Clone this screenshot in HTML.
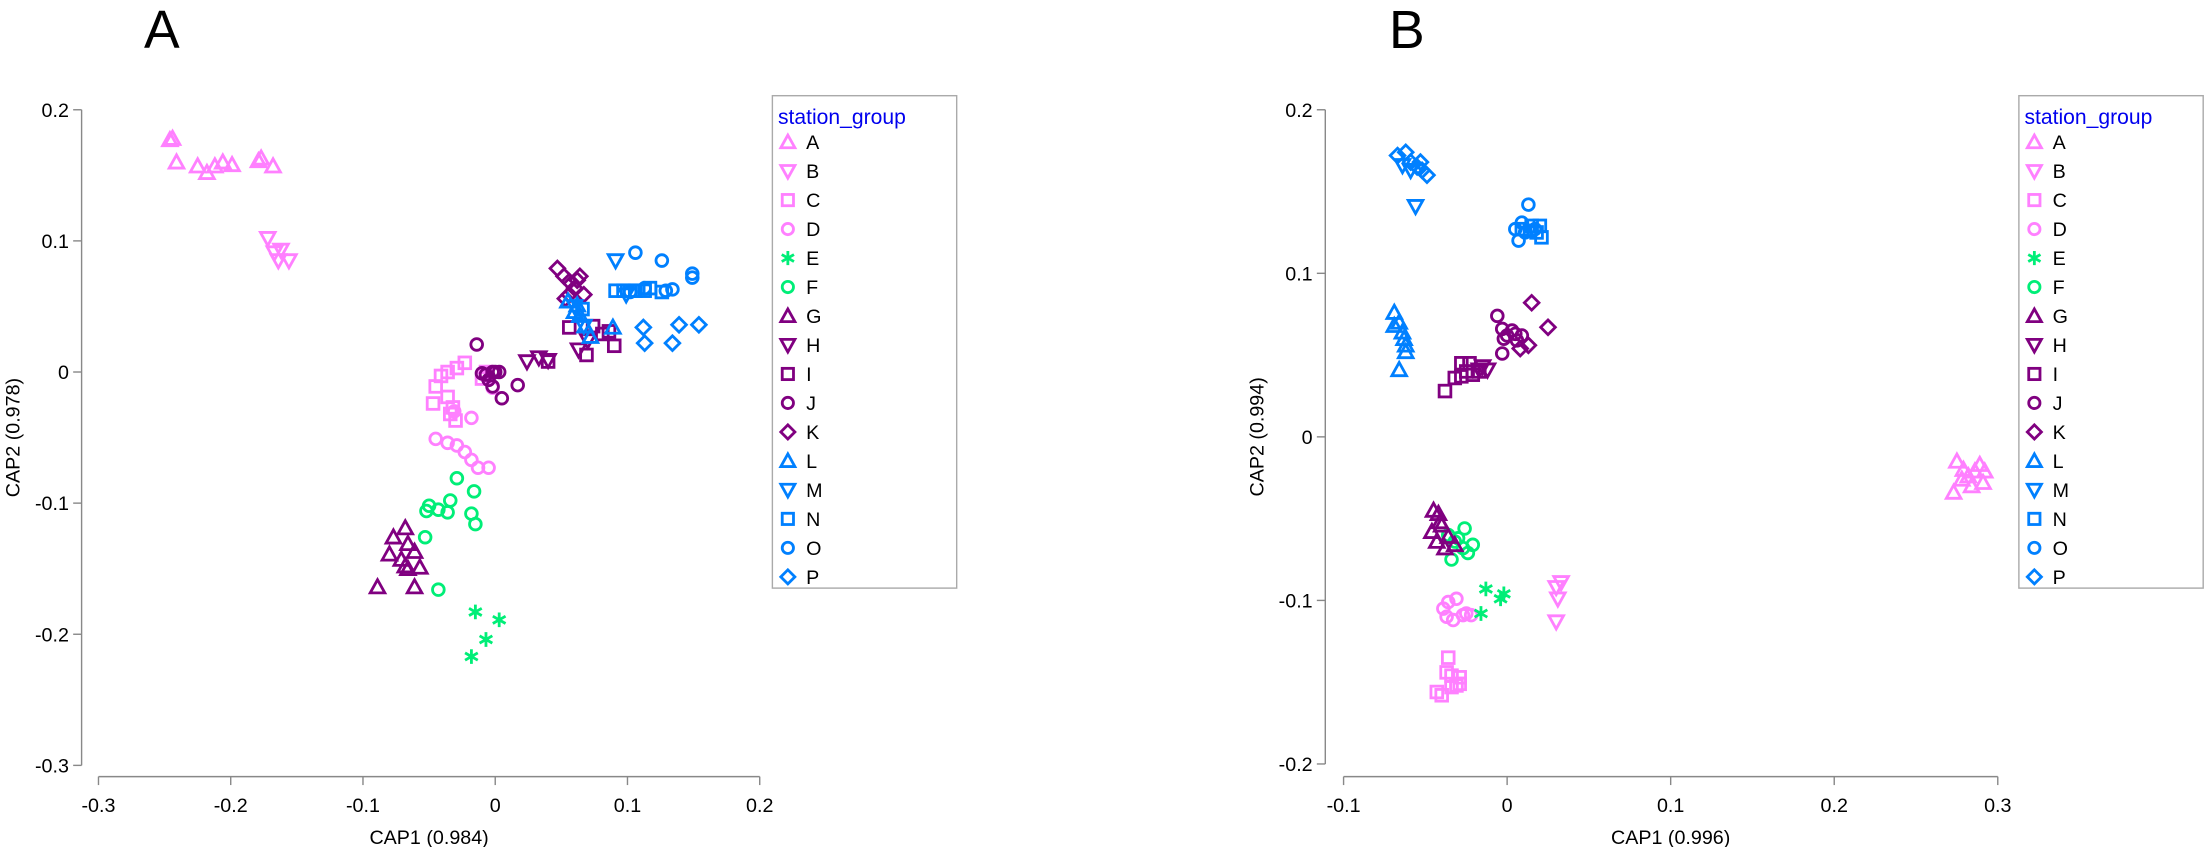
<!DOCTYPE html>
<html><head><meta charset="utf-8"><style>
html,body{margin:0;padding:0;background:#fff}
svg{display:block;font-family:"Liberation Sans",Arial,sans-serif}
</style></head><body>
<svg id="chart" width="2206" height="847" viewBox="0 0 1568 602" xmlns="http://www.w3.org/2000/svg">
<text x="115" y="34" font-size="38" text-anchor="middle">A</text>
<text x="1000" y="34" font-size="38" text-anchor="middle">B</text>
<g id="pa"></g>
<g id="pb"></g>
</svg>
<script>
const groups = ["A","B","C","D","E","F","G","H","I","J","K","L","M","N","O","P"];
const groupColors = ["#ff80ff","#ff80ff","#ff80ff","#ff80ff","#00ee77","#00ee77","#800080","#800080","#800080","#800080","#800080","#0080ff","#0080ff","#0080ff","#0080ff","#0080ff"];
const groupShapes = ["up","down","square","circle","star","circle","up","down","square","circle","diamond","up","down","square","circle","diamond"];
const xTicksA = [-0.3,-0.2,-0.1,0,0.1,0.2];
const yTicksA = [0.2,0.1,0,-0.1,-0.2,-0.3];
const xTicksB = [-0.1,0,0.1,0.2,0.3];
const yTicksB = [0.2,0.1,0,-0.1,-0.2];
const dataA = {
A:[[-0.246,0.177],[-0.244,0.178],[-0.241,0.160],[-0.225,0.157],[-0.218,0.152],[-0.212,0.157],[-0.206,0.160],[-0.199,0.158],[-0.179,0.161],[-0.177,0.163],[-0.168,0.157]],
B:[[-0.172,0.102],[-0.167,0.091],[-0.164,0.085],[-0.156,0.085],[-0.162,0.093]],
C:[[-0.047,-0.024],[-0.045,-0.011],[-0.041,-0.003],[-0.036,0.0],[-0.029,0.003],[-0.023,0.007],[-0.036,-0.019],[-0.032,-0.027],[-0.030,-0.037],[-0.034,-0.032],[-0.007,0.0],[-0.010,-0.005]],
D:[[-0.045,-0.051],[-0.036,-0.054],[-0.029,-0.056],[-0.023,-0.061],[-0.018,-0.067],[-0.013,-0.073],[-0.005,-0.073],[-0.031,-0.030],[-0.018,-0.035],[-0.007,-0.003],[-0.002,-0.012]],
E:[[-0.015,-0.183],[0.003,-0.189],[-0.007,-0.204],[-0.018,-0.217]],
F:[[-0.050,-0.102],[-0.043,-0.105],[-0.036,-0.107],[-0.034,-0.098],[-0.029,-0.081],[-0.016,-0.091],[-0.018,-0.108],[-0.015,-0.116],[-0.053,-0.126],[-0.043,-0.166],[-0.052,-0.106]],
G:[[-0.089,-0.164],[-0.077,-0.126],[-0.068,-0.119],[-0.066,-0.131],[-0.061,-0.137],[-0.071,-0.143],[-0.066,-0.150],[-0.057,-0.149],[-0.068,-0.148],[-0.080,-0.139],[-0.061,-0.164]],
H:[[0.024,0.008],[0.033,0.011],[0.063,0.017],[0.070,0.024],[0.040,0.009]],
I:[[0.040,0.008],[0.056,0.034],[0.069,0.013],[0.074,0.035],[0.081,0.029],[0.086,0.031],[0.090,0.020]],
J:[[-0.014,0.021],[-0.007,-0.002],[-0.005,-0.006],[-0.002,-0.011],[-0.002,0.0],[0.0,0.0],[0.003,0.0],[0.005,-0.020],[0.017,-0.010],[-0.010,-0.001]],
K:[[0.047,0.079],[0.052,0.073],[0.056,0.069],[0.060,0.064],[0.062,0.070],[0.064,0.073],[0.056,0.059],[0.067,0.059],[0.053,0.056]],
L:[[0.055,0.054],[0.060,0.046],[0.064,0.043],[0.068,0.035],[0.072,0.027],[0.089,0.034],[0.062,0.051]],
M:[[0.091,0.085],[0.099,0.059],[0.060,0.050],[0.067,0.035]],
N:[[0.091,0.062],[0.097,0.062],[0.102,0.062],[0.106,0.062],[0.113,0.062],[0.117,0.064],[0.126,0.061],[0.066,0.048]],
O:[[0.106,0.091],[0.126,0.085],[0.113,0.064],[0.129,0.062],[0.149,0.075],[0.149,0.072],[0.134,0.063],[0.102,0.061]],
P:[[0.112,0.034],[0.113,0.022],[0.139,0.036],[0.134,0.022],[0.154,0.036]]
};
const dataB = {
A:[[0.275,-0.015],[0.279,-0.020],[0.282,-0.024],[0.286,-0.021],[0.289,-0.017],[0.292,-0.021],[0.278,-0.026],[0.291,-0.028],[0.273,-0.034],[0.284,-0.030]],
B:[[0.030,-0.092],[0.031,-0.099],[0.030,-0.113],[0.033,-0.089]],
C:[[-0.043,-0.156],[-0.040,-0.158],[-0.037,-0.144],[-0.034,-0.146],[-0.031,-0.152],[-0.029,-0.147],[-0.034,-0.153],[-0.029,-0.151],[-0.036,-0.135]],
D:[[-0.039,-0.105],[-0.036,-0.101],[-0.031,-0.099],[-0.027,-0.109],[-0.025,-0.108],[-0.033,-0.112],[-0.022,-0.109],[-0.037,-0.110]],
E:[[-0.013,-0.093],[-0.004,-0.099],[-0.016,-0.108],[-0.002,-0.096]],
F:[[-0.036,-0.060],[-0.032,-0.064],[-0.027,-0.068],[-0.024,-0.071],[-0.030,-0.062],[-0.026,-0.056],[-0.021,-0.066],[-0.034,-0.075]],
G:[[-0.045,-0.045],[-0.042,-0.047],[-0.046,-0.058],[-0.040,-0.054],[-0.036,-0.061],[-0.043,-0.064],[-0.032,-0.066],[-0.038,-0.068],[-0.041,-0.052]],
H:[[-0.017,0.041],[-0.015,0.043],[-0.012,0.041]],
I:[[-0.038,0.028],[-0.032,0.036],[-0.028,0.037],[-0.025,0.040],[-0.021,0.038],[-0.017,0.040],[-0.028,0.045],[-0.023,0.045]],
J:[[-0.006,0.074],[-0.003,0.066],[0.0,0.062],[0.003,0.065],[0.005,0.063],[-0.002,0.060],[-0.003,0.051],[0.009,0.062],[0.006,0.059]],
K:[[0.015,0.082],[0.025,0.067],[0.008,0.054],[0.013,0.056]],
L:[[-0.069,0.076],[-0.066,0.070],[-0.064,0.064],[-0.063,0.060],[-0.062,0.056],[-0.066,0.041],[-0.062,0.052],[-0.069,0.068]],
M:[[-0.056,0.141],[-0.064,0.166],[-0.059,0.163]],
N:[[0.009,0.127],[0.014,0.126],[0.018,0.125],[0.020,0.129],[0.021,0.122],[0.015,0.129]],
O:[[0.005,0.127],[0.009,0.131],[0.013,0.142],[0.011,0.125],[0.017,0.127],[0.007,0.120]],
P:[[-0.067,0.172],[-0.062,0.174],[-0.059,0.168],[-0.055,0.165],[-0.052,0.163],[-0.049,0.160],[-0.053,0.168]]
};
const NS="http://www.w3.org/2000/svg";
function mk(tag,attrs,parent){const e=document.createElementNS(NS,tag);for(const k in attrs)e.setAttribute(k,attrs[k]);parent.appendChild(e);return e;}
function marker(shape,cx,cy,s,color,parent){
  let e; const st={fill:"none",stroke:color,"stroke-width":2};
  if(shape==="up"){e=mk("polygon",Object.assign({points:`${cx},${cy-s} ${cx-s},${cy+s*0.8} ${cx+s},${cy+s*0.8}`},st),parent);}
  else if(shape==="down"){e=mk("polygon",Object.assign({points:`${cx},${cy+s} ${cx-s},${cy-s*0.8} ${cx+s},${cy-s*0.8}`},st),parent);}
  else if(shape==="square"){e=mk("rect",Object.assign({x:cx-s*0.8,y:cy-s*0.8,width:s*1.6,height:s*1.6},st),parent);}
  else if(shape==="circle"){e=mk("circle",Object.assign({cx:cx,cy:cy,r:s*0.8},st),parent);}
  else if(shape==="diamond"){e=mk("polygon",Object.assign({points:`${cx},${cy-s} ${cx+s},${cy} ${cx},${cy+s} ${cx-s},${cy}`},st),parent);}
  else {e=mk("path",Object.assign({d:`M${cx},${cy-s}V${cy+s}M${cx-s*0.87},${cy-s*0.5}L${cx+s*0.87},${cy+s*0.5}M${cx-s*0.87},${cy+s*0.5}L${cx+s*0.87},${cy-s*0.5}`},st),parent);}
  return e;
}
function panel(g,cfg,data,xt,yt){
  const sx=v=>cfg.x0+(v-cfg.xmin)/(cfg.xmax-cfg.xmin)*(cfg.x1-cfg.x0);
  const sy=v=>cfg.y0-(v-cfg.ymin)/(cfg.ymax-cfg.ymin)*(cfg.y0-cfg.y1);
  const ax=mk("g",{},g);  
  mk("line",{x1:sx(xt[0]),x2:sx(xt[xt.length-1]),y1:cfg.xaxisY,y2:cfg.xaxisY,stroke:"#888","stroke-width":1},ax);
  xt.forEach(t=>{mk("line",{x1:sx(t),x2:sx(t),y1:cfg.xaxisY,y2:cfg.xaxisY+6,stroke:"#888"},ax);
    const tx=mk("text",{x:sx(t),y:cfg.xaxisY+25,"font-size":14,"text-anchor":"middle"},ax);tx.textContent=String(t);
    });
  const xtl=mk("text",{x:(sx(xt[0])+sx(xt[xt.length-1]))/2,y:cfg.xaxisY+48,"font-size":14,"text-anchor":"middle"},g);xtl.textContent=cfg.xtitle;
  
  const ay=mk("g",{},g);  
  mk("line",{x1:cfg.yaxisX,x2:cfg.yaxisX,y1:sy(yt[0]),y2:sy(yt[yt.length-1]),stroke:"#888"},ay);
  yt.forEach(t=>{mk("line",{x1:cfg.yaxisX-6,x2:cfg.yaxisX,y1:sy(t),y2:sy(t),stroke:"#888"},ay);
    const tx=mk("text",{x:cfg.yaxisX-9,y:sy(t)+5,"font-size":14,"text-anchor":"end"},ay);tx.textContent=String(t);
    });
  const cy=(sy(yt[0])+sy(yt[yt.length-1]))/2;
  const ytl=mk("text",{x:cfg.ytitleX,y:cy,"font-size":14,"text-anchor":"middle",transform:`rotate(-90 ${cfg.ytitleX} ${cy})`},g);ytl.textContent=cfg.ytitle;
  
  groups.forEach((k,i)=>{const sg=mk("g",{},g);
    
    
    (data[k]||[]).forEach(p=>{const m=marker(groupShapes[i],sx(p[0]),sy(p[1]),5.2,groupColors[i],sg);
      
      });});
  const lg=mk("g",{},g);  
  mk("rect",{x:cfg.lx,y:68,width:131,height:350,fill:"#fff",stroke:"#aaa"},lg);
  const lt=mk("text",{x:cfg.lx+4,y:88,"font-size":15,fill:"#0000ee"},lg);lt.textContent="station_group";
  
  groups.forEach((k,i)=>{const yy=101+i*20.6;const eg=mk("g",{},lg);
    
    
    marker(groupShapes[i],cfg.lx+11,yy,5,groupColors[i],eg);
    const t=mk("text",{x:cfg.lx+24,y:yy+5,"font-size":14},eg);t.textContent=k;});
}
panel(document.getElementById('pa'),{xmin:-0.3,xmax:0.2,x0:70,x1:540,ymin:-0.3,ymax:0.2,y0:544,y1:78,xaxisY:552,yaxisX:58,ytitleX:14,lx:549,xtitle:"CAP1 (0.984)",ytitle:"CAP2 (0.978)"},dataA,xTicksA,yTicksA);
panel(document.getElementById('pb'),{xmin:-0.1,xmax:0.3,x0:955,x1:1420,ymin:-0.2,ymax:0.2,y0:543,y1:78,xaxisY:552,yaxisX:942,ytitleX:898,lx:1435,xtitle:"CAP1 (0.996)",ytitle:"CAP2 (0.994)"},dataB,xTicksB,yTicksB);
</script>
</body></html>
